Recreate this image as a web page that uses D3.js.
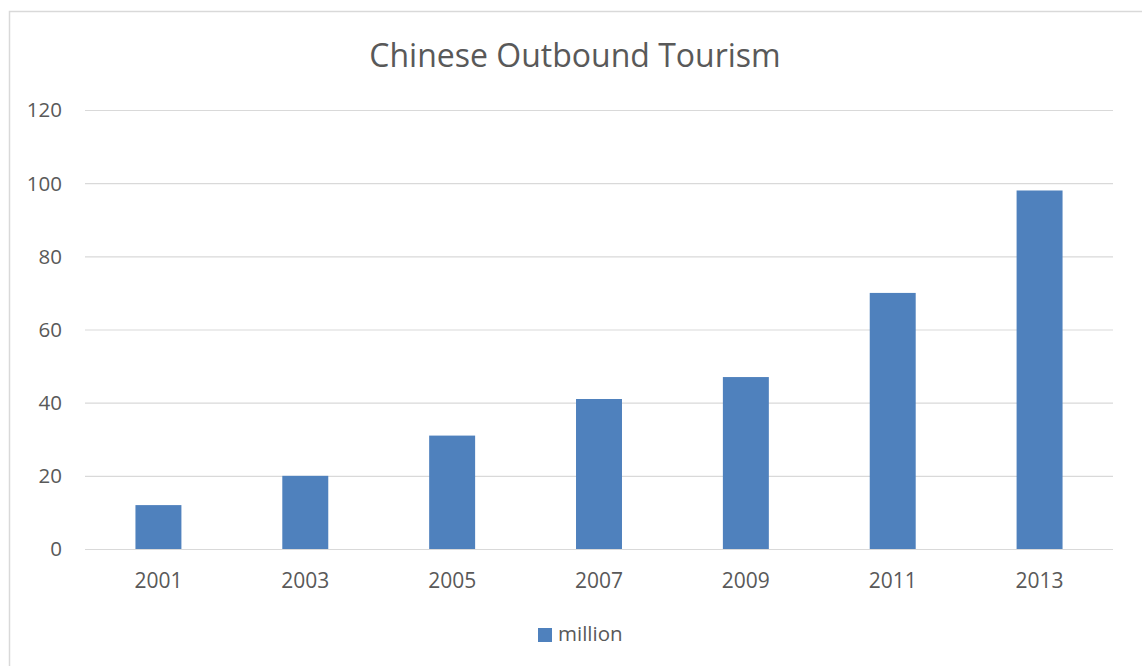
<!DOCTYPE html>
<html lang="en">
    <head>
        <meta charset="UTF-8">
        <title>Chinese Outbound Tourism</title>
        <script type="text/javascript" src="https://d3js.org/d3.v7.min.js"></script>
        <style>
         body { margin: 0; background: #fff; font-family: "Open Sans", Arial, sans-serif; }
        </style>
    </head>
    <body>
      <div id="svgcontainer"></div>
        <script>
            const width = 1142, height = 666;

            // data
            const years = ["2001", "2003", "2005", "2007", "2009", "2011", "2013"];
            const million = [12, 20, 31, 41, 47, 70, 98];
            const yTicks = [0, 20, 40, 60, 80, 100, 120];
            const seriesName = "million";

            const plot = { left: 85, right: 1113, top: 110, bottom: 549 };
            const textColor = "#595959";
            const barColor = "#4f81bd";

            const svg = d3.select("#svgcontainer")
                .append("svg")
                .attr("width", width)
                .attr("height", height);

            // chart border (right and bottom run off the page)
            svg.append("rect")
                .attr("x", 9.5).attr("y", 11.5)
                .attr("width", 1160).attr("height", 700)
                .attr("fill", "none")
                .attr("stroke", "#d9d9d9")
                .attr("stroke-width", 1.5);

            const x = d3.scaleBand()
                .domain(years)
                .range([plot.left, plot.right])
                .paddingInner(0.687)
                .paddingOuter(0.687 / 2);

            const y = d3.scaleLinear()
                .domain([0, 120])
                .range([plot.bottom, plot.top]);

            // gridlines
            svg.append("g")
                .selectAll("line")
                .data(yTicks)
                .enter().append("line")
                .attr("x1", plot.left).attr("x2", plot.right)
                .attr("y1", d => y(d) + 0.5).attr("y2", d => y(d) + 0.5)
                .attr("stroke", "#d9d9d9")
                .attr("stroke-width", 1.2);

            // y labels
            svg.append("g")
                .selectAll("text")
                .data(yTicks)
                .enter().append("text")
                .attr("x", 62)
                .attr("y", d => y(d))
                .attr("dy", "0.36em")
                .attr("text-anchor", "end")
                .attr("fill", textColor)
                .style("font-size", "20.5px")
                .text(d => d);

            // bars
            svg.append("g")
                .selectAll("rect")
                .data(million)
                .enter().append("rect")
                .attr("x", (d, i) => x(years[i]))
                .attr("y", d => y(d))
                .attr("width", x.bandwidth())
                .attr("height", d => y(0) - y(d))
                .attr("fill", barColor);

            // x labels
            svg.append("g")
                .selectAll("text")
                .data(years)
                .enter().append("text")
                .attr("x", d => x(d) + x.bandwidth() / 2)
                .attr("y", 588)
                .attr("text-anchor", "middle")
                .attr("fill", textColor)
                .style("font-size", "21px")
                .text(d => d);

            // title
            svg.append("text")
                .attr("x", 575)
                .attr("y", 67)
                .attr("text-anchor", "middle")
                .attr("fill", textColor)
                .style("font-size", "32px")
                .text("Chinese Outbound Tourism");

            // legend
            const legend = svg.append("g");
            legend.append("rect")
                .attr("x", 538).attr("y", 628)
                .attr("width", 14).attr("height", 14)
                .attr("fill", barColor);
            legend.append("text")
                .attr("x", 558).attr("y", 641)
                .attr("fill", textColor)
                .style("font-size", "20.5px")
                .text(seriesName);
        </script>
    </body>
</html>
